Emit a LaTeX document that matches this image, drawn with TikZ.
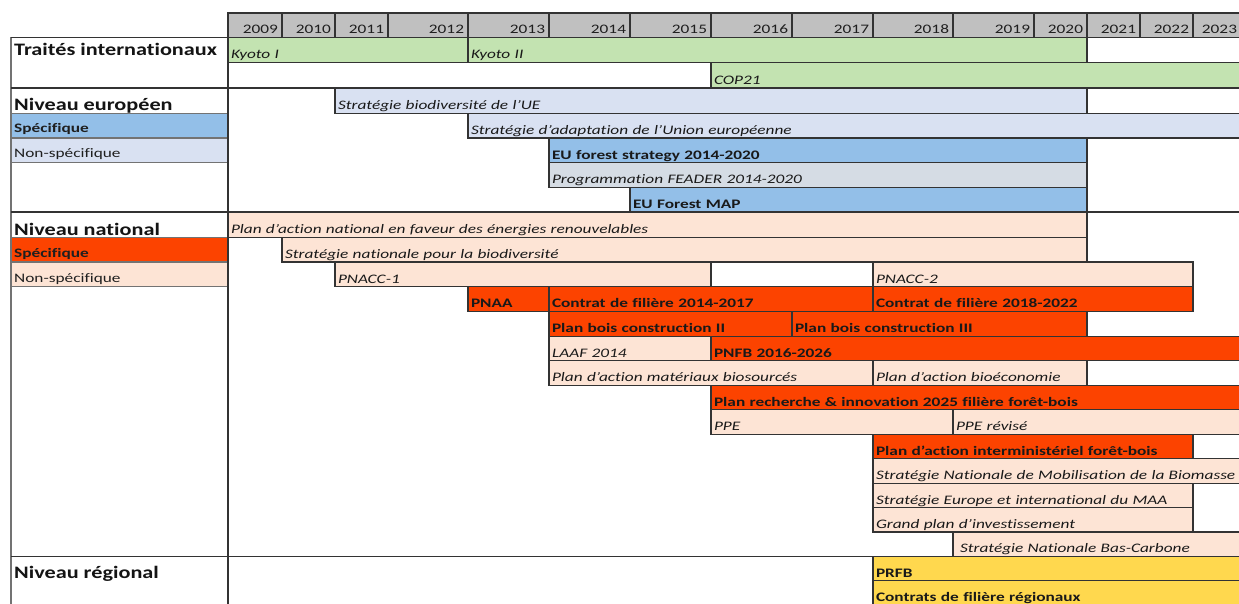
\documentclass[tikz,border=0pt]{standalone}
\usepackage{fontspec}
\setmainfont{Carlito}[FakeStretch=1.33, Ligatures={NoCommon}]
\newfontfamily\headfont{Carlito}[FakeStretch=1.27, Ligatures={NoCommon}]
\definecolor{lncol}{HTML}{333333}
\definecolor{hdr}{HTML}{C0C0C0}
\definecolor{cgrn}{HTML}{C3E3B1}
\definecolor{ceul}{HTML}{D9E1F2}
\definecolor{ceub}{HTML}{93BFE8}
\definecolor{cfead}{HTML}{D5DCE4}
\definecolor{cnat}{HTML}{FC4300}
\definecolor{cpeach}{HTML}{FDE4D5}
\definecolor{cyel}{HTML}{FFD84E}
\tikzset{
  barbox/.style={draw=lncol, line width=1.1pt, rectangle, anchor=north west,
    inner xsep=3pt, inner ysep=0pt, outer sep=0pt, text height=17.5pt,
    text depth=0pt, align=left, text=black!90},
  itf/.style={font=\fontsize{13}{15}\selectfont\itshape},
  bff/.style={font=\fontsize{13}{15}\selectfont\bfseries},
  green/.style={itf, fill=cgrn},
  eul/.style={itf, fill=ceul},
  eub/.style={bff, fill=ceub},
  fead/.style={itf, fill=cfead},
  natS/.style={bff, fill=cnat},
  natN/.style={itf, fill=cpeach},
  reg/.style={bff, fill=cyel},
  yearcell/.style={draw=lncol, line width=1.1pt, fill=hdr, rectangle, anchor=north west,
    inner xsep=4pt, inner ysep=0pt, outer sep=0pt, text height=16.5pt, text depth=0pt,
    minimum height=24.5pt, align=right, font=\fontsize{13}{15}\selectfont, text=black!88},
  headlab/.style={anchor=base west, inner sep=0pt, font=\headfont\fontsize{17.5}{19}\selectfont\bfseries, text=black!92},
  sublab/.style={anchor=base west, inner sep=0pt, font=\fontsize{13}{15}\selectfont, text=black!88},
  mainline/.style={draw=lncol, line width=1.8pt},
  thinline/.style={draw=black!55, line width=1.2pt}
}
\def\rowtops{{37.5,62.8,88,113.2,138,162.8,187.5,212.3,237.2,262,286.8,311.5,336.2,360.8,385.3,409.8,434.3,458.8,483.2,507.6,532,556.4,580.8,605.2}}
\newcommand\tbar[6]{%
  \pgfmathsetmacro\ytop{\rowtops[#4-1]}%
  \pgfmathsetmacro\ybot{\rowtops[#4]}%
  \pgfmathsetmacro\bw{#3-#2-6}%
  \pgfmathsetmacro\bh{\ybot-\ytop}%
  \node[barbox,#5,text width=\bw pt,minimum height=\bh pt] (#1) at (#2,\ytop) {\mbox{#6}};}
\newcommand\yr[3]{%
  \pgfmathsetmacro\bw{#3-#2-8}%
  \node[yearcell,text width=\bw pt] (y#1) at (#2,13) {#1};}
\begin{document}
\begin{tikzpicture}[x=1pt,y=-1pt]
\clip (0,0) rectangle (1239,604);
\fill[white] (0,0) rectangle (1239,604);
% left column boxes
\draw[thinline] (11,37.5) rectangle (228,88);
\draw[thinline] (11,88) rectangle (228,113.2);
\filldraw[thinline, fill=ceub] (11,113.2) rectangle (228,138);
\filldraw[thinline, fill=ceul] (11,138) rectangle (228,162.8);
\draw[thinline] (11,162.8) rectangle (228,212.3);
\draw[thinline] (11,212.3) rectangle (228,237.2);
\filldraw[thinline, fill=cnat] (11,237.2) rectangle (228,262);
\filldraw[thinline, fill=cpeach] (11,262) rectangle (228,286.8);
\draw[thinline] (11,286.8) rectangle (228,556.4);
\draw[thinline] (11,556.4) rectangle (228,620);
% left labels
\node[headlab] (lti) at (14,56) {Traités internationaux};
\node[headlab] (leu) at (14,110.5) {Niveau européen};
\node[sublab, font=\fontsize{13}{15}\selectfont\bfseries] (leus) at (14,133) {Spécifique};
\node[sublab] (leun) at (14,158) {Non-spécifique};
\node[headlab] (lna) at (14,235) {Niveau national};
\node[sublab, font=\fontsize{13}{15}\selectfont\bfseries] (lnas) at (14,257.5) {Spécifique};
\node[sublab] (lnan) at (14,282) {Non-spécifique};
\node[headlab] (lre) at (14,578.5) {Niveau régional};
% year header
\yr{2009}{228}{282}
\yr{2010}{282}{335}
\yr{2011}{335}{388}
\yr{2012}{388}{468}
\yr{2013}{468}{549}
\yr{2014}{549}{630}
\yr{2015}{630}{711}
\yr{2016}{711}{792}
\yr{2017}{792}{873}
\yr{2018}{873}{953}
\yr{2019}{953}{1034}
\yr{2020}{1034}{1087}
\yr{2021}{1087}{1140}
\yr{2022}{1140}{1193}
\yr{2023}{1193}{1241}
% bars
\tbar{kyotoI}{228}{468}{1}{green}{Kyoto I}
\tbar{kyotoII}{468}{1087}{1}{green}{Kyoto II}
\tbar{cop}{711}{1260}{2}{green}{COP21}
\tbar{biodue}{335}{1087}{3}{eul}{Stratégie biodiversité de l'UE}
\tbar{adapt}{468}{1260}{4}{eul}{Stratégie d’adaptation de l’Union européenne}
\tbar{euforest}{549}{1087}{5}{eub}{EU forest strategy 2014-2020}
\tbar{feader}{549}{1087}{6}{fead}{Programmation FEADER 2014-2020}
\tbar{eumap}{630}{1087}{7}{eub}{EU Forest MAP}
\tbar{pnaenr}{228}{1087}{8}{natN}{Plan d'action national en faveur des énergies renouvelables}
\tbar{snb}{282}{1087}{9}{natN}{Stratégie nationale pour la biodiversité}
\tbar{pnacc1}{335}{711}{10}{natN}{PNACC-1}
\tbar{pnacc2}{873}{1193}{10}{natN}{PNACC-2}
\tbar{pnaa}{468}{549}{11}{natS}{PNAA}
\tbar{cf1}{549}{873}{11}{natS}{Contrat de filière 2014-2017}
\tbar{cf2}{873}{1193}{11}{natS}{Contrat de filière 2018-2022}
\tbar{pbc2}{549}{792}{12}{natS}{Plan bois construction II}
\tbar{pbc3}{792}{1087}{12}{natS}{Plan bois construction III}
\tbar{laaf}{549}{711}{13}{natN}{LAAF 2014}
\tbar{pnfb}{711}{1260}{13}{natS}{PNFB 2016-2026}
\tbar{pamb}{549}{873}{14}{natN}{Plan d'action matériaux biosourcés}
\tbar{pabe}{873}{1087}{14}{natN}{Plan d’action bioéconomie}
\tbar{pri}{711}{1260}{15}{natS}{Plan recherche \& innovation 2025 filière forêt-bois}
\tbar{ppe}{711}{953}{16}{natN}{PPE}
\tbar{pper}{953}{1260}{16}{natN}{PPE révisé}
\tbar{pai}{873}{1193}{17}{natS}{Plan d’action interministériel forêt-bois}
\tbar{snmb}{873}{1260}{18}{natN}{Stratégie Nationale de Mobilisation de la Biomasse}
\tbar{seim}{873}{1193}{19}{natN}{Stratégie Europe et international du MAA}
\tbar{gpi}{873}{1193}{20}{natN}{Grand plan d’investissement}
\tbar{snbc}{953}{1260}{21}{natN}{\hspace{4pt}Stratégie Nationale Bas-Carbone}
\tbar{prfb}{873}{1260}{22}{reg}{PRFB}
\tbar{cfr}{873}{1260}{23}{reg}{Contrats de filière régionaux}
% main grid lines
\draw[mainline] (11,37.5) -- (1239,37.5);
\draw[mainline] (11,88) -- (1239,88);
\draw[mainline] (11,212.3) -- (1239,212.3);
\draw[mainline] (11,556.4) -- (1239,556.4);
\draw[mainline] (228,13) -- (228,604);
\end{tikzpicture}
\end{document}
